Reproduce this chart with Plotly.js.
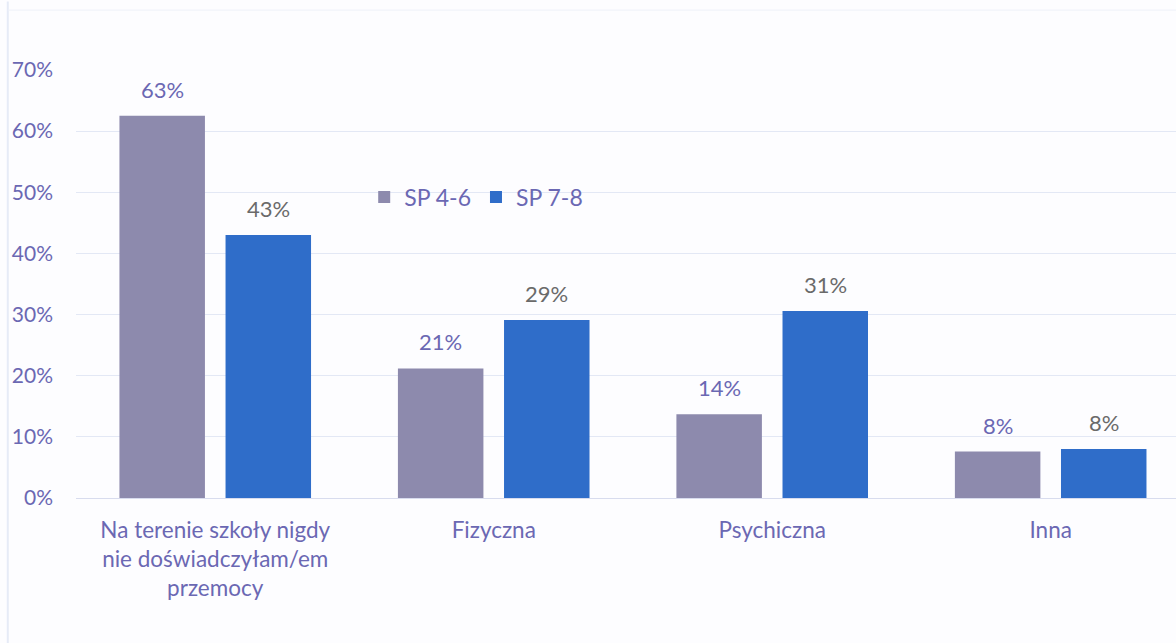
<!DOCTYPE html>
<html>
<head>
<meta charset="utf-8">
<script src="https://cdn.plot.ly/plotly-3.0.1.min.js"></script>
<style>
html,body{margin:0;padding:0;background:#fdfdff;}
#chart{width:1176px;height:643px;}
</style>
</head>
<body>
<div id="chart"></div>
<script>
const categories = [
  "Na terenie szkoły nigdy<br>nie doświadczyłam/em<br>przemocy",
  "Fizyczna",
  "Psychiczna",
  "Inna"
];
const seriesNames = ["SP 4-6", "SP 7-8"];
const sp46 = [0.625, 0.212, 0.137, 0.076];
const sp78 = [0.430, 0.291, 0.306, 0.080];
const yTickVals = [0, 0.1, 0.2, 0.3, 0.4, 0.5, 0.6, 0.7];
const yTickText = ["0%", "10%", "20%", "30%", "40%", "50%", "60%", "70%"];

const FONT = "Lato, 'Open Sans', sans-serif";
const purple = "#6b68b3";
const grey = "#6a6a6a";
const idx = categories.map((c, i) => i);
const BW = 0.307, GAP = 0.074;

const traces = [
  {
    type: "bar", name: seriesNames[0], x: idx, y: sp46,
    width: BW, offset: -BW - GAP / 2,
    marker: { color: "#8d8aad", line: { width: 0 } },
    hoverinfo: "skip"
  },
  {
    type: "bar", name: seriesNames[1], x: idx, y: sp78,
    width: BW, offset: GAP / 2,
    marker: { color: "#2f6dc9", line: { width: 0 } },
    hoverinfo: "skip"
  }
];

const annotations = [];
sp46.forEach((v, i) => annotations.push({
  x: i - BW / 2 - GAP / 2, y: v, xref: "x", yref: "y",
  text: Math.round(v * 100) + "%", showarrow: false,
  yanchor: "bottom", yshift: 11,
  font: { family: FONT, size: 22, color: purple }
}));
sp78.forEach((v, i) => annotations.push({
  x: i + BW / 2 + GAP / 2, y: v, xref: "x", yref: "y",
  text: Math.round(v * 100) + "%", showarrow: false,
  yanchor: "bottom", yshift: 11,
  font: { family: FONT, size: 22, color: grey }
}));

const layout = {
  width: 1176, height: 643,
  margin: { l: 76, r: 0, t: 70, b: 145 },
  paper_bgcolor: "#fdfdff",
  plot_bgcolor: "#fdfdff",
  barmode: "group",
  showlegend: true,
  legend: {
    orientation: "h", x: 0.262, y: 0.703, xanchor: "left", yanchor: "middle",
    font: { family: FONT, size: 23, color: purple },
    bgcolor: "rgba(0,0,0,0)", itemwidth: 30, traceorder: "normal"
  },
  xaxis: {
    type: "linear",
    range: [-0.5, 3.45],
    tickvals: idx, ticktext: categories,
    showgrid: false, zeroline: false, showline: false,
    ticks: "", ticklabelstandoff: 16,
    tickfont: { family: FONT, size: 22.5, color: purple }
  },
  yaxis: {
    range: [0, 0.7],
    tickvals: yTickVals, ticktext: yTickText,
    showgrid: true, gridcolor: "#e3e8f5", gridwidth: 1,
    zeroline: true, zerolinecolor: "#d8dcee", zerolinewidth: 1,
    showline: false, ticks: "", ticklabelstandoff: 22,
    tickfont: { family: FONT, size: 21, color: purple }
  },
  annotations: annotations,
  shapes: [
    { type: "line", xref: "paper", yref: "paper", x0: -0.062, x1: -0.062, y0: -0.34, y1: 1.16,
      line: { color: "#e6ebf7", width: 2 } },
    { type: "line", xref: "paper", yref: "paper", x0: -0.062, x1: 1, y0: 1.14, y1: 1.14,
      line: { color: "#eef1f9", width: 1 } }
  ]
};

Plotly.newPlot("chart", traces, layout, { staticPlot: true, displayModeBar: false });
</script>
</body>
</html>
